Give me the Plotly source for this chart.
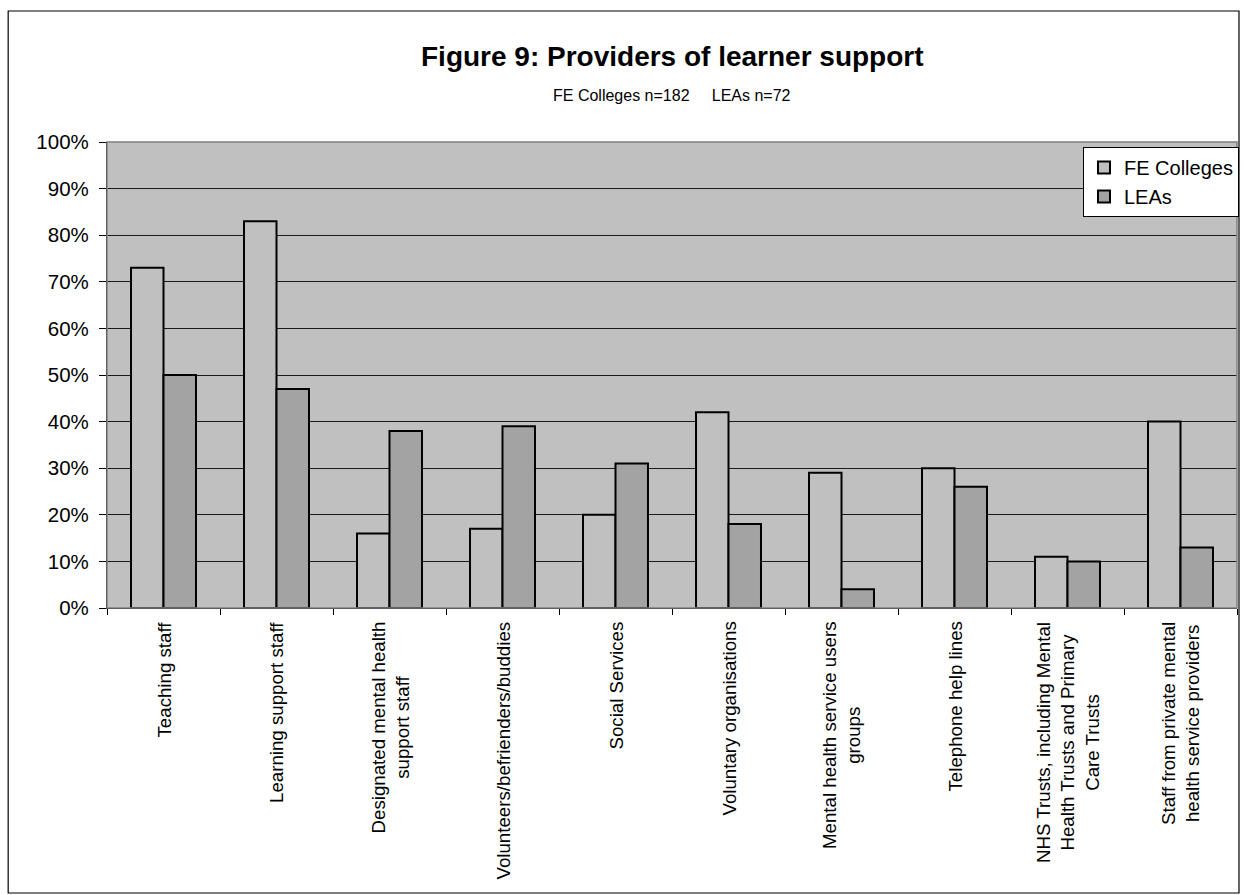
import plotly.graph_objects as go

# Providers of learner support, % of respondents
categories = [
    "Teaching staff",
    "Learning support staff",
    "Designated mental health<br>support staff",
    "Volunteers/befrienders/buddies",
    "Social Services",
    "Voluntary organisations",
    "Mental health service users<br>groups",
    "Telephone help lines",
    "NHS Trusts, including Mental<br>Health Trusts and Primary<br>Care Trusts",
    "Staff from private mental<br>health service providers",
]
fe_colleges = [73, 83, 16, 17, 20, 42, 29, 30, 11, 40]
leas = [50, 47, 38, 39, 31, 18, 4, 26, 10, 13]

y_ticks = list(range(0, 101, 10))
y_tick_labels = [f"{v}%" for v in y_ticks]

FONT = "Arial, Liberation Sans, sans-serif"

W, H = 1244, 895
L, R, T, B = 107, 5, 142, 287
PW, PH = W - L - R, H - T - B


def px_x(p):
    return (p - L) / PW


def px_y(p):
    return (H - B - p) / PH


fig = go.Figure()
fig.add_trace(go.Bar(
    name="FE Colleges", x=categories, y=fe_colleges,
    marker=dict(color="#C0C0C0", line=dict(color="black", width=2)),
))
fig.add_trace(go.Bar(
    name="LEAs", x=categories, y=leas,
    marker=dict(color="#A3A3A3", line=dict(color="black", width=2)),
))

# category labels, rotated and centred line by line
annotations = [
    dict(x=c, y=px_y(620), xref="x", yref="paper", text=c, textangle=-90,
         showarrow=False, xanchor="center", yanchor="top", align="center",
         font=dict(family=FONT, size=18.7, color="black"))
    for c in categories
]
annotations.append(dict(
    x=0.5, y=px_y(56), xref="paper", yref="paper",
    text="<b>Figure 9: Providers of learner support</b>", showarrow=False,
    xanchor="center", yanchor="middle",
    font=dict(family=FONT, size=28, color="black")))
annotations.append(dict(
    x=0.5, y=px_y(95), xref="paper", yref="paper",
    text="FE Colleges n=182&nbsp;&nbsp;&nbsp;&nbsp;&nbsp;LEAs n=72", showarrow=False,
    xanchor="center", yanchor="middle",
    font=dict(family=FONT, size=16, color="black")))

shapes = [
    # plot area frame
    dict(type="rect", xref="paper", yref="paper", x0=0, x1=1, y0=0, y1=1,
         line=dict(color="#808080", width=1.5), layer="above"),
    # outer chart border
    dict(type="rect", xref="paper", yref="paper",
         x0=px_x(8), x1=px_x(1241), y0=px_y(893), y1=px_y(11),
         line=dict(color="black", width=1.2), layer="above"),
]

fig.update_layout(
    width=W, height=H,
    margin=dict(l=L, r=R, t=T, b=B, pad=0),
    paper_bgcolor="white", plot_bgcolor="#C0C0C0",
    barmode="group", bargap=0.425, bargroupgap=0,
    font=dict(family=FONT, size=20, color="black"),
    showlegend=True,
    legend=dict(
        x=px_x(1241), y=px_y(147), xanchor="right", yanchor="top",
        bgcolor="white", bordercolor="black", borderwidth=1,
        font=dict(family=FONT, size=20, color="black"),
        itemwidth=30, tracegroupgap=0,
    ),
    annotations=annotations,
    shapes=shapes,
)
fig.update_xaxes(
    type="category", showticklabels=False, showgrid=False,
    showline=True, linecolor="black", linewidth=1.2,
    ticks="outside", tickson="boundaries", ticklen=6, tickcolor="black",
)
fig.update_yaxes(
    range=[0, 100], tickvals=y_ticks, ticktext=y_tick_labels,
    showgrid=True, gridcolor="#1a1a1a", gridwidth=1,
    showline=True, linecolor="black", linewidth=1.2,
    ticks="outside", ticklen=7, tickcolor="black",
    tickfont=dict(family=FONT, size=20.5, color="black"),
    ticklabelstandoff=6,
    zeroline=False,
)

fig.write_html("out.html")
